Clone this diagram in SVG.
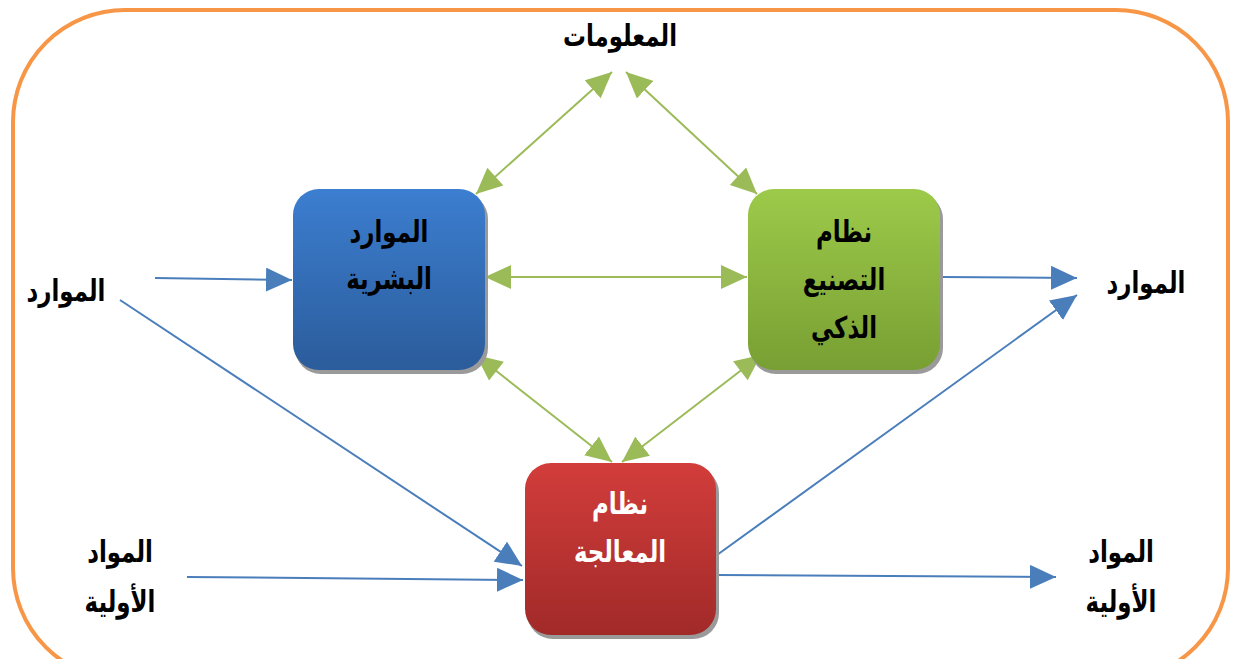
<svg xmlns="http://www.w3.org/2000/svg" width="1235" height="659" viewBox="0 0 1235 659">
<defs>
<linearGradient id="gBlue" x1="0" y1="0" x2="0" y2="1"><stop offset="0" stop-color="#3C7ED0"/><stop offset="1" stop-color="#2B5C9B"/></linearGradient>
<linearGradient id="gGreen" x1="0" y1="0" x2="0" y2="1"><stop offset="0" stop-color="#9DCA4A"/><stop offset="1" stop-color="#789F33"/></linearGradient>
<linearGradient id="gRed" x1="0" y1="0" x2="0" y2="1"><stop offset="0" stop-color="#D23D3B"/><stop offset="1" stop-color="#A12A29"/></linearGradient>
<marker id="aBlue" markerUnits="userSpaceOnUse" markerWidth="28" markerHeight="24" refX="26" refY="12" orient="auto"><path d="M0,0 L26,12 L0,24 Z" fill="#4A7EBB"/></marker>
<marker id="aGreenE" markerUnits="userSpaceOnUse" markerWidth="28" markerHeight="24" refX="26" refY="12" orient="auto"><path d="M0,0 L26,12 L0,24 Z" fill="#9BBB59"/></marker>
<marker id="aGreenS" markerUnits="userSpaceOnUse" markerWidth="28" markerHeight="24" refX="0" refY="12" orient="auto"><path d="M26,0 L0,12 L26,24 Z" fill="#9BBB59"/></marker>
</defs>
<style>
.t{font-family:"DejaVu Sans",sans-serif;font-weight:bold;font-size:26px;text-anchor:middle;fill:#000;transform-box:fill-box;transform-origin:center;transform:scale(0.88,1.15)}
.w{fill:#fff}
.shadow{fill:#9a9a9a}
.blue{stroke:#4A7EBB;stroke-width:2;fill:none;marker-end:url(#aBlue)}
.green{stroke:#9BBB59;stroke-width:2;fill:none;marker-end:url(#aGreenE);marker-start:url(#aGreenS)}
</style>
<rect x="0" y="0" width="1235" height="659" fill="#fff"/>
<rect id="frame" x="13" y="10" width="1215" height="670" rx="112" fill="none" stroke="#F79646" stroke-width="4"/>
<g id="connectors">
<line class="blue" x1="155" y1="278" x2="292" y2="280"/>
<line class="blue" x1="120" y1="300" x2="522" y2="566"/>
<line class="blue" x1="187" y1="577" x2="523" y2="580"/>
<line class="blue" x1="941" y1="277" x2="1077" y2="278"/>
<line class="blue" x1="717" y1="555" x2="1077" y2="295"/>
<line class="blue" x1="717" y1="575" x2="1056" y2="577"/>
<line class="green" x1="476" y1="194" x2="612" y2="72"/>
<line class="green" x1="757" y1="194" x2="626" y2="72"/>
<line class="green" x1="485" y1="277" x2="747" y2="277"/>
<line class="green" x1="476" y1="355" x2="612" y2="462"/>
<line class="green" x1="761" y1="355" x2="622" y2="462"/>
</g>
<g id="n_info"><text class="t" x="620" y="45">المعلومات</text></g>
<g id="n_human">
<rect class="shadow" x="295" y="193" width="193" height="181" rx="26"/>
<rect x="293" y="189" width="192" height="181" rx="26" fill="url(#gBlue)"/>
<text class="t" x="389" y="241">الموارد</text>
<text class="t" x="389" y="288">البشرية</text>
</g>
<g id="n_smart">
<rect class="shadow" x="750" y="193" width="193" height="181" rx="26"/>
<rect x="748" y="189" width="192" height="181" rx="26" fill="url(#gGreen)"/>
<text class="t" x="844" y="241">نظام</text>
<text class="t" x="844" y="289">التصنيع</text>
<text class="t" x="844" y="337">الذكي</text>
</g>
<g id="n_proc">
<rect class="shadow" x="527" y="467" width="192" height="172" rx="26"/>
<rect x="525" y="463" width="191" height="172" rx="26" fill="url(#gRed)"/>
<text class="t w" x="620" y="513">نظام</text>
<text class="t w" x="620" y="561">المعالجة</text>
</g>
<g id="n_res_in"><text class="t" x="66" y="300">الموارد</text></g>
<g id="n_res_out"><text class="t" x="1146" y="292">الموارد</text></g>
<g id="n_raw_in"><text class="t" x="120" y="561">المواد</text><text class="t" x="120" y="611">الأولية</text></g>
<g id="n_raw_out"><text class="t" x="1121" y="561">المواد</text><text class="t" x="1121" y="611">الأولية</text></g>
</svg>
